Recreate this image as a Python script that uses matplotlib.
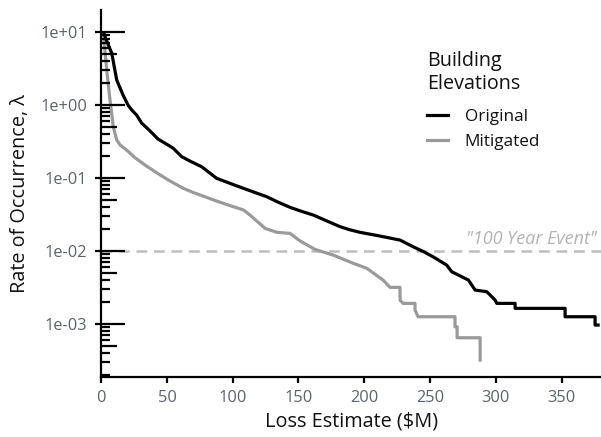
import matplotlib

matplotlib.use("Agg")

import matplotlib.pyplot as plt
import matplotlib.transforms as mtransforms

# Exceedance curves (loss in $M, annual rate).
orig_loss = [2.1, 4.0, 8.0, 11.8, 16.6, 20.4, 23.2, 27.0, 30.8, 36.5, 43.2, 54.6, 61.2, 68.0,
             76.4, 87.8, 98.0, 108.1, 117.0, 125.9, 134.0, 143.6, 152.0, 161.3, 171.0, 181.6,
             189.0, 196.8, 212.0, 227.2, 237.3, 245.0, 252.5, 262.7, 266.5, 279.2, 284.3,
             293.2, 299.5, 300.8, 314.7, 314.7, 352.7, 352.7, 375.5, 375.5, 377.8]
orig_rate = [9.6, 7.6, 5.1, 2.18, 1.36, 0.99, 0.85, 0.72, 0.56, 0.45, 0.34, 0.256, 0.195, 0.168,
             0.142, 0.0986, 0.084, 0.072, 0.063, 0.0552, 0.047, 0.0395, 0.035, 0.031, 0.026,
             0.0215, 0.0195, 0.018, 0.016, 0.0141, 0.0114, 0.0098, 0.0083, 0.0064, 0.0052,
             0.0040, 0.00292, 0.00277, 0.00213, 0.00192, 0.00192, 0.00164, 0.00164, 0.00126,
             0.00126, 0.00097, 0.00097]

mitig_loss = [1.6, 4.2, 6.7, 9.2, 11.8, 14.3, 19.4, 25.5, 33.3, 42.0, 51.0, 62.4, 70.0, 78.9,
              88.0, 96.7, 108.3, 113.1, 124.6, 133.5, 143.6, 151.2, 162.6, 176.3, 191.5,
              201.9, 214.3, 219.6, 227.2, 227.2, 229.5, 238.6, 238.6, 240.9, 269.0, 269.0,
              270.6, 270.6, 288.1, 288.1]
mitig_rate = [9.6, 2.99, 1.16, 0.50, 0.33, 0.282, 0.24, 0.19, 0.15, 0.118, 0.0935, 0.072, 0.063,
              0.0552, 0.048, 0.0425, 0.0363, 0.031, 0.0204, 0.018, 0.0174, 0.0137, 0.0105,
              0.0088, 0.0068, 0.0058, 0.0040, 0.00318, 0.00318, 0.00213, 0.00192, 0.00192,
              0.00156, 0.00126, 0.00126, 0.00092, 0.00092, 0.00065, 0.00065, 0.000322]

series_names = ["Original", "Mitigated"]
hundred_year_rate = 0.01

INK = "#111111"
TICK_TXT = "#5c6270"
GREY = "#9a9a9a"
DASH = "#bdbdbd"

plt.rcParams["font.family"] = ["Open Sans", "DejaVu Sans"]

W, H = 601, 437
fig = plt.figure(figsize=(W / 100, H / 100), dpi=100)
ax_l, ax_r, ax_b, ax_t = 101.2, 601, 377.3, 10
ax = fig.add_axes([ax_l / W, 1 - ax_b / H, (ax_r - ax_l) / W, (ax_b - ax_t) / H])

ax.plot(orig_loss, orig_rate, color="black", lw=2.3, label=series_names[0],
        solid_joinstyle="round", zorder=4)
ax.plot(mitig_loss, mitig_rate, color=GREY, lw=2.3, label=series_names[1],
        solid_joinstyle="round", zorder=3)

ax.set_yscale("log")
ax.set_xlim(0, 380)
ax.set_ylim(1.87e-4, 19.8)

# 100 year event reference line
trans = mtransforms.blended_transform_factory(ax.transAxes, ax.transData)
ax.axhline(hundred_year_rate, color=DASH, lw=1.8, linestyle=(0, (4.3, 2.7)), zorder=2)
ax.text(0.992, hundred_year_rate * 1.1, '"100 Year Event"', transform=trans,
        ha="right", va="bottom", fontsize=13, style="italic", color="#b3b3b3")

# log ticks drawn inside the panel (long / mid / short)
axw = ax_r - ax_l
lo, hi = ax.get_ylim()
for k in range(-5, 2):
    for m in range(1, 10):
        v = m * 10.0 ** k
        if v < lo or v > hi:
            continue
        length = 24 if m == 1 else (16 if m == 5 else 9)
        ax.plot([0, length / axw], [v, v], color="black", lw=1.6, transform=trans,
                clip_on=False, solid_capstyle="butt", zorder=5)

ax.set_yticks([1e-3, 1e-2, 1e-1, 1e0, 1e1])
ax.set_yticklabels(["1e-03", "1e-02", "1e-01", "1e+00", "1e+01"])
ax.yaxis.set_minor_locator(matplotlib.ticker.NullLocator())
ax.set_xticks([0, 50, 100, 150, 200, 250, 300, 350])

for side in ("top", "right"):
    ax.spines[side].set_visible(False)
for side in ("left", "bottom"):
    ax.spines[side].set_linewidth(1.6)
    ax.spines[side].set_color("black")

ax.tick_params(axis="both", which="major", direction="out", length=4.3, width=1.6,
               color="black", labelsize=11.8, labelcolor=TICK_TXT)
ax.tick_params(axis="y", pad=6)
ax.tick_params(axis="x", pad=5)

ax.set_xlabel("Loss Estimate ($M)", fontsize=14.3, color=INK, labelpad=4)
ax.set_ylabel("Rate of Occurrence, λ", fontsize=14.3, color=INK, labelpad=7)

leg = ax.legend(title="Building\nElevations", loc="upper left", bbox_to_anchor=(427 / W, 1 - 51 / H),
                bbox_transform=fig.transFigure, frameon=False, fontsize=12.3, title_fontsize=14.2,
                handlelength=1.2, handletextpad=1.0, labelspacing=0.5, borderaxespad=0,
                borderpad=0)
leg._legend_box.align = "left"
leg._legend_box.sep = 11
for t in leg.get_texts():
    t.set_color(INK)
leg.get_title().set_color(INK)

fig.savefig("out.png", dpi=100, facecolor="white")
